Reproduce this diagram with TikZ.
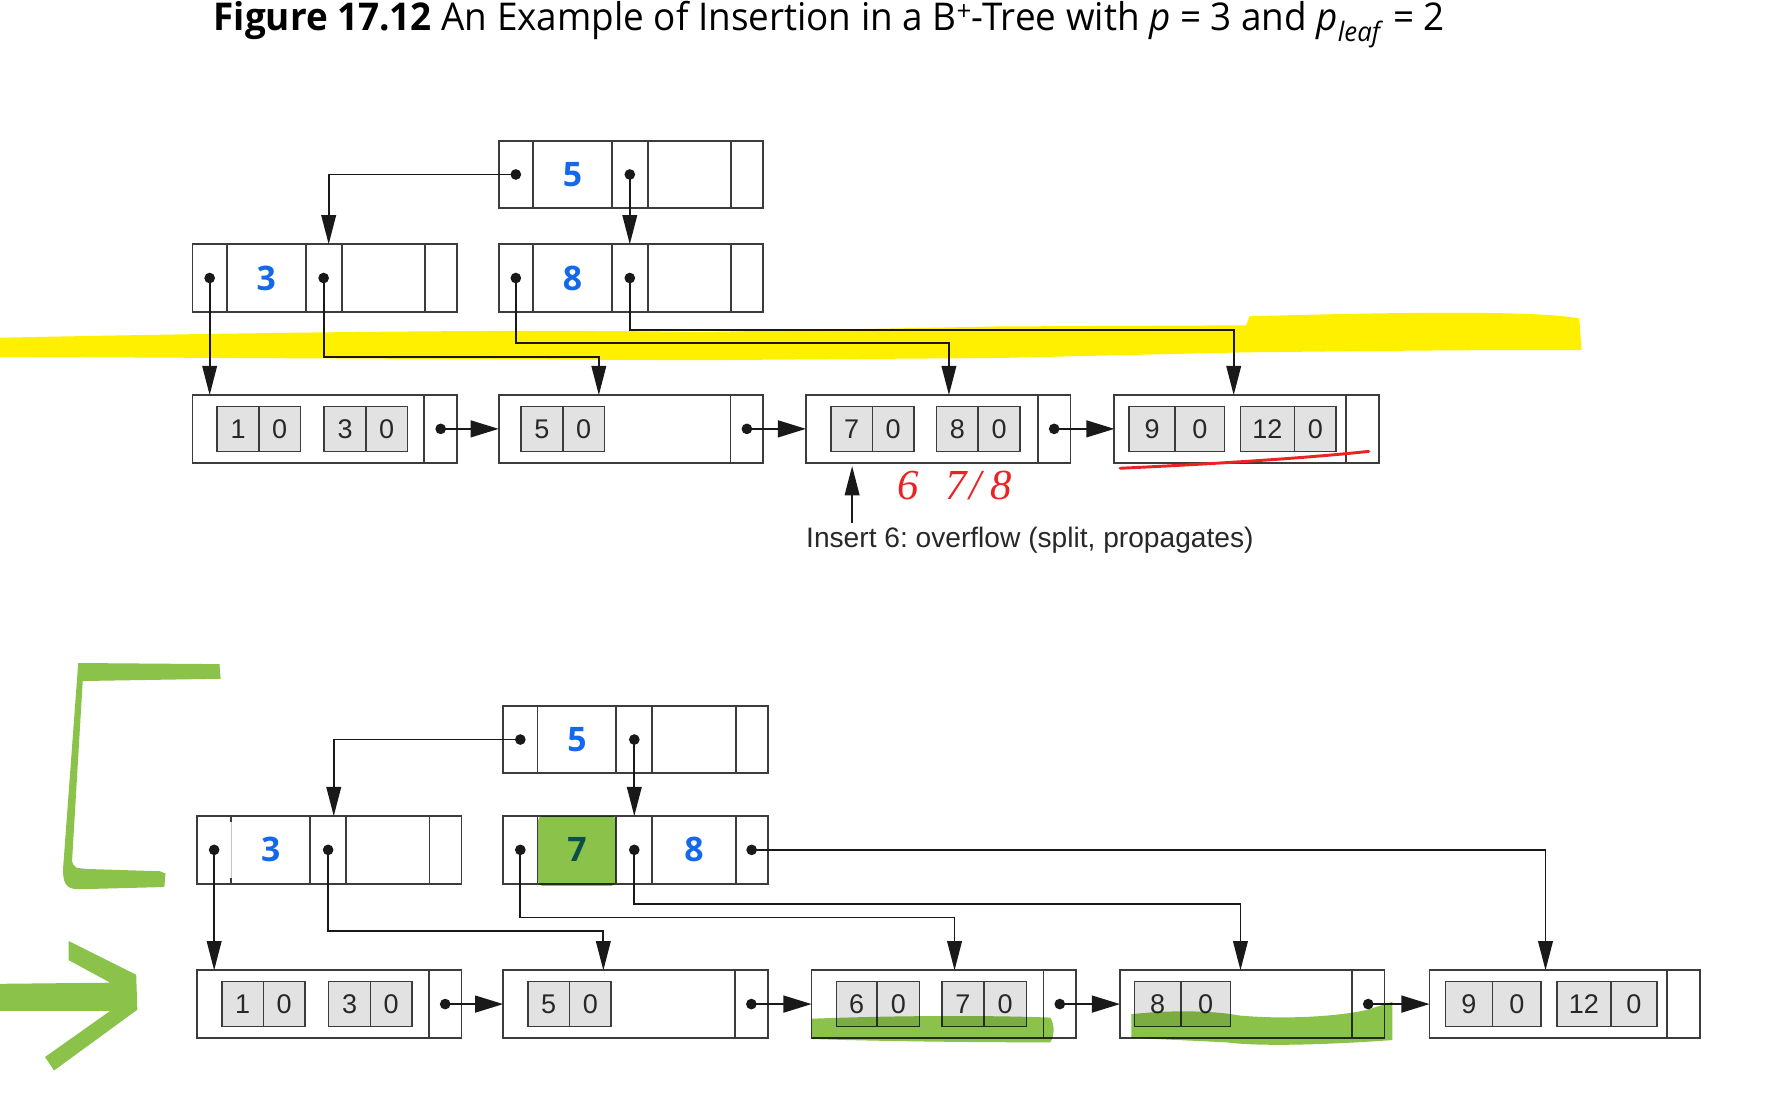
\documentclass[tikz,border=0pt]{standalone}
\usepackage{fontspec}
\setmainfont{Liberation Sans}
\newfontfamily\titlefont{Open Sans}
\newfontfamily\keyfam{Open Sans}
\newfontfamily\handfont{Liberation Serif}
\usepackage{graphicx}
\usetikzlibrary{arrows.meta,calc}
\definecolor{boxc}{RGB}{60,60,60}
\definecolor{connc}{RGB}{25,25,25}
\definecolor{entfill}{RGB}{226,226,226}
\definecolor{keyblue}{RGB}{20,105,235}
\definecolor{hlyellow}{RGB}{255,240,0}
\definecolor{hlgreen}{RGB}{139,195,74}
\definecolor{penred}{RGB}{235,35,35}
\definecolor{txtc}{RGB}{40,40,40}
\tikzset{
  cellbox/.style={draw=boxc, line width=1.6pt, minimum height=60pt, inner sep=0pt, outer sep=0pt, anchor=north west, font=\keyfam\bfseries\fontsize{30}{34}\selectfont, text=keyblue},
  entbox/.style={draw=boxc, fill=entfill, line width=1.4pt, minimum height=40pt, inner sep=0pt, outer sep=0pt, anchor=north west, font=\fontsize{24}{28}\selectfont, text=txtc},
  ptrdot/.style={circle, fill=connc, inner sep=0pt, minimum size=9.5pt},
  conn/.style={draw=connc, line width=1.6pt},
  arr/.style={conn, -{Triangle[length=26pt,width=13pt]}},
  harr/.style={conn, -{Triangle[length=25pt,width=15pt]}},
  divline/.style={draw=boxc, line width=1.6pt},
}
\newcommand\mkinode[4]{%
  \node[cellbox, minimum width=30.5pt] (#1c1) at (#2) {};
  \node[cellbox, minimum width=70pt] (#1c2) at (#1c1.north east) {#3};
  \node[cellbox, minimum width=32pt] (#1c3) at (#1c2.north east) {};
  \node[cellbox, minimum width=74pt] (#1c4) at (#1c3.north east) {#4};
  \node[cellbox, minimum width=28.5pt] (#1c5) at (#1c4.north east) {};
}
\newcommand\mkleaf[3]{%
  \node[cellbox, minimum width=#3pt] (#1) at (#2) {};
  \draw[divline] ([xshift=-29pt]#1.north east) -- ([xshift=-29pt]#1.south east);
}
\newcommand\mkent[7]{%
  \node[entbox, minimum width=#4pt] (#1k) at ([xshift=#3pt,yshift=-10pt]#2.north west) {#6};
  \node[entbox, minimum width=#5pt] (#1v) at (#1k.north east) {#7};
}
\newcommand\mkldot[1]{\node[ptrdot] (#1d) at ([xshift=-14.5pt]#1.east) {};}
\newcommand\mkcdot[2]{\node[ptrdot] (#1d#2) at (#1c\ifcase#2\or1\or3\or5\fi.center) {};}
\begin{document}
\frenchspacing
\begin{tikzpicture}[x=1pt,y=-1pt]
\useasboundingbox (0,0) rectangle (1568,991);
\fill[white] (0,0) rectangle (1568,991);

% title
\node[anchor=base west, inner sep=0pt, text=black] (title) at (189.5,27)
  {\resizebox{1094pt}{\height}{\titlefont\fontsize{34}{40}\selectfont\textbf{Figure 17.12} An Example of Insertion in a B\textsuperscript{+}-Tree with \textit{p} = 3 and \textit{p}\textsubscript{\textit{leaf}} = 2}};

% ---------------- top tree ----------------
\mkinode{r1}{443,125}{5}{}
\mkinode{a1}{171,217}{3}{}
\mkinode{b1}{443,217}{8}{}
\mkcdot{r1}{1}\mkcdot{r1}{2}
\mkcdot{a1}{1}\mkcdot{a1}{2}
\mkcdot{b1}{1}\mkcdot{b1}{2}

\mkleaf{tl1}{171,351}{235}
\mkleaf{tl2}{443,351}{235}
\mkleaf{tl3}{716,351}{235}
\mkleaf{tl4}{990,351}{235}
\mkent{tea}{tl1}{22}{37}{37}{1}{0}
\mkent{teb}{tl1}{117}{37}{37}{3}{0}
\mkent{tec}{tl2}{20}{37}{37}{5}{0}
\mkent{ted}{tl3}{22}{37}{37}{7}{0}
\mkent{tee}{tl3}{116}{37}{37}{8}{0}
\mkent{tef}{tl4}{13}{41}{44}{9}{0}
\mkent{teg}{tl4}{112}{48}{37}{12}{0}
\mkldot{tl1}\mkldot{tl2}\mkldot{tl3}

\draw[arr] (r1d1.center) -| ([xshift=4.5pt]a1c3.north);
\draw[arr] (r1d2.center) -- (b1c3.north);
\draw[arr] (a1d1.center) -- (a1d1.center |- tl1.north);
\draw[arr] (a1d2.center) -- ++(0,70) -| ([xshift=89pt]tl2.north west);
\draw[arr] (b1d1.center) -- ++(0,58) -| ([xshift=127pt]tl3.north west);
\draw[arr] (b1d2.center) -- ++(0,46) -| ([xshift=106pt]tl4.north west);
\draw[harr] (tl1d.center) -- (tl2.west);
\draw[harr] (tl2d.center) -- (tl3.west);
\draw[harr] (tl3d.center) -- (tl4.west);

\node[anchor=base west, inner sep=0pt, text=txtc, font=\fontsize{25}{30}\selectfont] (instext) at (716,486) {Insert 6: overflow (split, propagates)};
\coordinate (insstart) at (757,465);
\coordinate (insend) at ([yshift=-3pt]tl3.south west);
\draw[arr] (insstart) -- (insstart |- insend);

% ---------------- bottom tree ----------------
\mkinode{r2}{447,627}{5}{}
\mkinode{a2}{175,725}{3}{}
\mkinode{b2}{447,725}{7}{8}
\mkcdot{r2}{1}\mkcdot{r2}{2}
\mkcdot{a2}{1}\mkcdot{a2}{2}
\mkcdot{b2}{1}\mkcdot{b2}{2}\mkcdot{b2}{3}
\draw[white, line width=2.4pt] ([yshift=-5pt]a2c1.north east) -- ([yshift=5pt]a2c1.south east);
\draw[gray!45, line width=0.6pt] ([yshift=-5pt]a2c1.north east) -- ([yshift=5pt]a2c1.south east);

\mkleaf{bl1}{175,862}{235}
\mkleaf{bl2}{447,862}{235}
\mkleaf{bl3}{721,862}{235}
\mkleaf{bl4}{995,862}{235}
\mkleaf{bl5}{1270,862}{240}
\mkent{bea}{bl1}{22}{37}{37}{1}{0}
\mkent{beb}{bl1}{117}{37}{37}{3}{0}
\mkent{bec}{bl2}{22}{37}{37}{5}{0}
\mkent{bed}{bl3}{22}{36}{38}{6}{0}
\mkent{bee}{bl3}{116}{37}{38}{7}{0}
\mkent{bef}{bl4}{13}{41}{44}{8}{0}
\mkent{beg}{bl5}{14}{42}{43}{9}{0}
\mkent{beh}{bl5}{113}{48}{41}{12}{0}
\mkldot{bl1}\mkldot{bl2}\mkldot{bl3}\mkldot{bl4}

\draw[arr] (r2d1.center) -| ([xshift=5pt]a2c3.north);
\draw[arr] (r2d2.center) -- (b2c3.north);
\draw[arr] (a2d1.center) -- (a2d1.center |- bl1.north);
\draw[arr] (a2d2.center) -- ++(0,72) -| ([xshift=89pt]bl2.north west);
\draw[arr] (b2d1.center) -- ++(0,60) -| ([xshift=127pt]bl3.north west);
\draw[arr] (b2d2.center) -- ++(0,48) -| ([xshift=107pt]bl4.north west);
\draw[arr] (b2d3.center) -| ([xshift=103pt]bl5.north west);
\draw[harr] (bl1d.center) -- (bl2.west);
\draw[harr] (bl2d.center) -- (bl3.west);
\draw[harr] (bl3d.center) -- (bl4.west);
\draw[harr] (bl4d.center) -- (bl5.west);

% ---------------- annotations ----------------
\begin{scope}[blend mode=multiply]
\fill[hlyellow] (0,300) .. controls (200,296) and (450,292) .. (622,295) -- (888,290) -- (1107,289) -- (1110,281)
  .. controls (1250,277) and (1370,276) .. (1403,283) -- (1405,311) .. controls (1300,311) .. (1107,313)
  -- (888,318) -- (622,320) .. controls (400,319) and (200,318) .. (0,317) -- cycle;
\fill[hlgreen] (69.5,589) -- (195,590) -- (196,603) -- (73.5,605) -- (64,765) .. controls (66,771) .. (78,772)
  -- (142,774) -- (147,776) -- (146,788) -- (70,790) .. controls (58,790) and (56,784) .. (56,772) -- cycle;
\fill[hlgreen] (0,874) -- (98,873) -- (61,853) -- (61,836) -- (121,866) -- (122,897) -- (48,951) -- (40,939)
  -- (98,898) -- (0,898) -- cycle;
\fill[hlgreen, rounded corners=4pt] (478,725) rectangle (547,787);
\fill[hlgreen] (721,905) .. controls (800,902) and (880,902) .. (933,904) .. controls (937,910) and (937,920) .. (933,926)
  .. controls (860,926) and (780,925) .. (721,923) -- cycle;
\fill[hlgreen] (1005,901) .. controls (1040,897) and (1080,898) .. (1100,902) .. controls (1140,906) and (1190,903) .. (1215,897)
  -- (1237,890) -- (1237,924) .. controls (1180,928) and (1120,930) .. (1090,926) -- (1005,922) -- cycle;
\end{scope}

\draw[penred, line width=2.6pt, line cap=round] (995,416) .. controls (1060,413) and (1150,408) .. (1216,401);
\node[anchor=base west, inner sep=0pt, text=penred, font=\handfont\itshape\fontsize{38}{40}\selectfont] (hand) at (797,444)
  {6\hspace{24pt}7\kern2pt/\kern8pt8};
\end{tikzpicture}
\end{document}
